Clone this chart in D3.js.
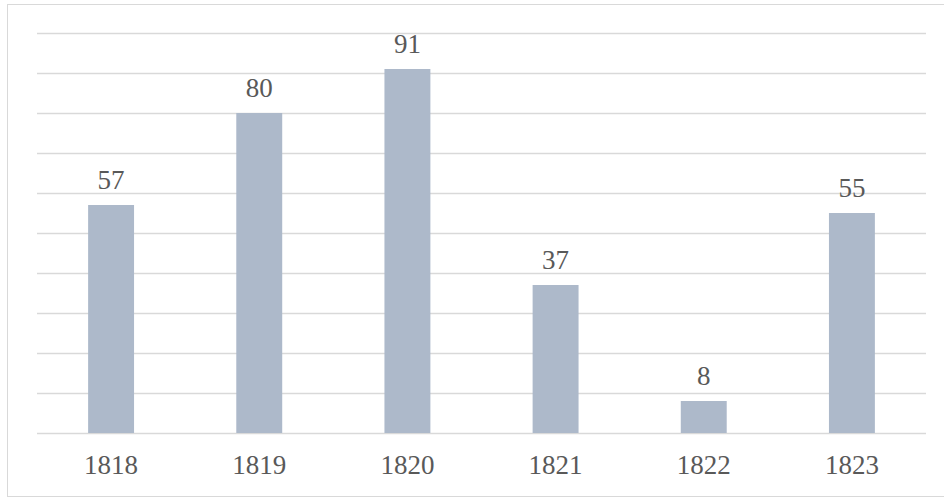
<!DOCTYPE html>
<head>
  <meta charset="utf-8">
  <script src="https://d3js.org/d3.v7.min.js"></script>
  <style>
    body { margin: 0; background: #fff; }
    text {
      font-family: 'Times New Roman', 'Liberation Serif', serif;
      font-size: 27px;
      fill: #595959;
    }
  </style>
</head>
<body>
<div id="chart"></div>
<script>

// data
const years = ["1818", "1819", "1820", "1821", "1822", "1823"];
const counts = [57, 80, 91, 37, 8, 55];
const yTicks = [0, 10, 20, 30, 40, 50, 60, 70, 80, 90, 100];

const W = 944, H = 498;
const plot = { left: 37, right: 926, top: 33, bottom: 433 };

const svg = d3.select('#chart')
    .append("svg")
    .attr("width", W)
    .attr("height", H);

// outer frame
svg.append("rect")
    .attr("x", 7.5).attr("y", 4.5)
    .attr("width", 940).attr("height", 492)
    .style("fill", "none")
    .style("stroke", "#d9d9d9");

const x = d3.scaleBand()
    .domain(years)
    .range([plot.left, plot.right])
    .paddingInner(0.69)
    .paddingOuter(0.345);

const y = d3.scaleLinear()
    .domain([0, 100])
    .range([plot.bottom, plot.top]);

// gridlines
svg.selectAll(".grid")
    .data(yTicks)
    .enter().append("line")
    .attr("x1", plot.left)
    .attr("x2", plot.right)
    .attr("y1", d => Math.round(y(d)) + 0.5)
    .attr("y2", d => Math.round(y(d)) + 0.5)
    .style("stroke", "#d9d9d9")
    .style("stroke-width", 1.5);

const data = years.map((yr, i) => ({ year: yr, value: counts[i] }));

svg.selectAll(".bar")
    .data(data)
    .enter().append("rect")
    .attr("x", d => x(d.year))
    .attr("y", d => y(d.value))
    .attr("width", x.bandwidth())
    .attr("height", d => y(0) - y(d.value))
    .style("fill", "#adb9ca");

// value labels
svg.selectAll(".val")
    .data(data)
    .enter().append("text")
    .attr("x", d => x(d.year) + x.bandwidth() / 2)
    .attr("y", d => y(d.value) - 16)
    .attr("text-anchor", "middle")
    .text(d => d.value);

// category labels
const xAxis = svg.append("g")
    .attr("transform", "translate(0," + plot.bottom + ")")
    .call(d3.axisBottom(x).tickSize(0).tickPadding(0));
xAxis.select(".domain").remove();
xAxis.selectAll("text")
    .attr("y", 41)
    .attr("dy", null)
    .style("font-family", "'Times New Roman', 'Liberation Serif', serif")
    .style("font-size", "27px")
    .style("fill", "#595959");

</script>
</body>
